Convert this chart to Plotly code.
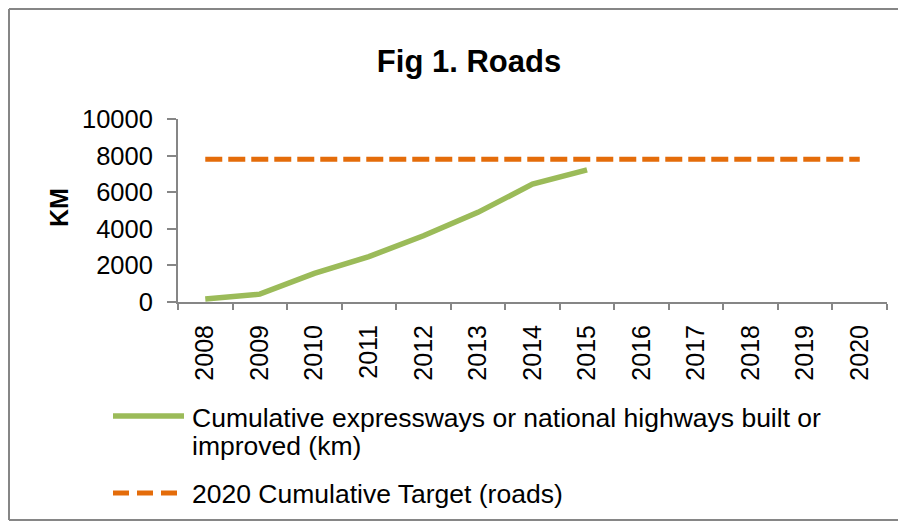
import plotly.graph_objects as go

years = ["2008", "2009", "2010", "2011", "2012", "2013", "2014", "2015",
         "2016", "2017", "2018", "2019", "2020"]
built_years = years[:8]
built_km = [160, 430, 1560, 2480, 3620, 4900, 6440, 7220]
target_km = [7800] * len(years)
y_ticks = [0, 2000, 4000, 6000, 8000, 10000]

built_lines = ["Cumulative expressways or national highways built or", "improved (km)"]
name_built = "<br>".join(built_lines)
name_target = "2020 Cumulative Target (roads)"
green = "#9BBB59"
orange = "#E46C0A"
grey = "#868686"
FONT = "Liberation Sans, Arial"

# page body has an 8px margin; figure covers page 8..906 x 8..521
OFF = 8
W, H = 898, 513
L, R, T, B = 170, 19, 111, 219
pw, ph = W - L - R, H - T - B


def px(x):  # page x -> paper
    return (x - OFF - L) / pw


def py(y):  # page y -> paper
    return (H - B - (y - OFF)) / ph


fig = go.Figure()
fig.add_trace(go.Scatter(x=years, y=target_km, mode="lines", name=name_target,
                         line=dict(color=orange, width=5, dash="17px,6px"),
                         showlegend=False, hoverinfo="skip"))
fig.add_trace(go.Scatter(x=built_years, y=built_km, mode="lines", name=name_built,
                         line=dict(color=green, width=5.5), showlegend=False,
                         hoverinfo="skip"))

fig.update_layout(
    width=W, height=H,
    margin=dict(l=L, r=R, t=T, b=B, pad=0),
    paper_bgcolor="white", plot_bgcolor="white",
    font=dict(family=FONT, size=25, color="#000"),
    title=dict(text="<b>Fig 1. Roads</b>", x=px(469), xanchor="center",
               y=1 - (61 - OFF) / H, yanchor="middle", xref="paper", yref="container",
               font=dict(family=FONT, size=31, color="#000")),
    xaxis=dict(type="category", categoryorder="array", categoryarray=years,
               range=[-0.5, 12.5], showline=True, linecolor=grey, linewidth=2,
               ticks="outside", ticklen=6, tickcolor=grey, tickwidth=2,
               tickson="boundaries", tickangle=-90, showgrid=False,
               tickfont=dict(family=FONT, size=25, color="#000"),
               ticklabelstandoff=11),
    yaxis=dict(range=[0, 10000], tickvals=y_ticks, tickformat="d", showline=True,
               linecolor=grey, linewidth=2, ticks="outside", ticklen=9,
               tickcolor=grey, tickwidth=2, showgrid=False, zeroline=False,
               tickfont=dict(family=FONT, size=25.5, color="#000"),
               ticklabelstandoff=9),
)

# y axis title
fig.add_annotation(text="<b>KM</b>", textangle=-90, x=px(59), y=py(208),
                   xref="paper", yref="paper", showarrow=False,
                   xanchor="center", yanchor="middle",
                   font=dict(family=FONT, size=25, color="#000"))

# Outer chart border (left, top, bottom)
for (x0, y0, x1, y1) in [(9, 9, 9, 520), (9, 9, 912, 9), (9, 520, 912, 520)]:
    fig.add_shape(type="line", xref="paper", yref="paper",
                  x0=px(x0), x1=px(x1), y0=py(y0), y1=py(y1),
                  line=dict(color=grey, width=2))

# Manual legend
fig.add_shape(type="line", xref="paper", yref="paper", x0=px(113), x1=px(184),
              y0=py(416), y1=py(416), line=dict(color=green, width=5.5))
for text, yc in zip(built_lines, (418, 446)):
    fig.add_annotation(text=text, x=px(190), y=py(yc), xref="paper", yref="paper",
                       xanchor="left", yanchor="middle", showarrow=False,
                       font=dict(family=FONT, size=26.5, color="#000"))
for x0 in (113, 137, 161):
    fig.add_shape(type="line", xref="paper", yref="paper", x0=px(x0), x1=px(x0 + 16),
                  y0=py(493), y1=py(493), line=dict(color=orange, width=5))
fig.add_annotation(text=name_target, x=px(190), y=py(494), xref="paper", yref="paper",
                   xanchor="left", yanchor="middle", showarrow=False,
                   font=dict(family=FONT, size=26.5, color="#000"))

fig.write_html("out.html", config={"displayModeBar": False})
